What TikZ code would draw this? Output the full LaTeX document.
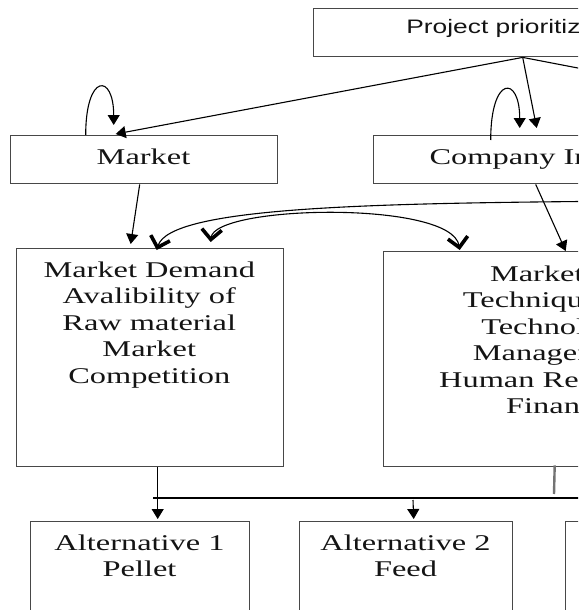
\documentclass[tikz,border=0pt]{standalone}
\usepackage{fontspec}
\setmainfont{Liberation Serif}
\newfontfamily\headsans{Liberation Sans}
\usepackage{graphicx}
\usetikzlibrary{arrows.meta}
% widened, centred multi-line text (first line sits on the node's base)
\newcommand{\widetext}[1]{\scalebox{1.44}[1]{\begin{tabular}[t]{@{}c@{}}#1\end{tabular}}}
\begin{document}
\begin{tikzpicture}[x=1pt,y=-1pt,
  box/.style={draw=black!72, line width=1.4pt, inner sep=0pt, anchor=north west},
  lbl/.style={inner sep=0pt, anchor=base, text=black!92,
              font=\fontsize{22.5}{26.5}\selectfont},
  conn/.style={draw=black, line width=1.1pt},
  tri/.style={-{Triangle[length=10pt,width=12pt]}},
  vtip/.tip={Straight Barb[length=10pt,width=20pt,line width=3.6pt]},
  vee/.style={-vtip},
  veeboth/.style={vtip-vtip},
  stub/.style={draw=black!55, line width=2.4pt}
]
\useasboundingbox (0,0) rectangle (578,610);
\clip (0,0) rectangle (578,610);

% boxes
\node[box, minimum width=418pt, minimum height=48pt]  (top)     at (313,8)   {};
\node[box, minimum width=267pt, minimum height=48pt]  (market)  at (10,135)  {};
\node[box, minimum width=348pt, minimum height=48pt]  (company) at (373,135) {};
\node[box, minimum width=267.5pt, minimum height=218pt] (md)    at (15.5,248) {};
\node[box, minimum width=349pt, minimum height=215pt] (rb)      at (383,251) {};
\node[box, minimum width=219pt, minimum height=130pt] (alt1)    at (30,521)  {};
\node[box, minimum width=213pt, minimum height=130pt] (alt2)    at (299,521) {};
\node[box, minimum width=230pt, minimum height=130pt] (alt3)    at (565,521) {};

% texts
\node[lbl, font=\headsans\fontsize{19.5}{23}\selectfont] (ttop) at (522,33.5)
  {\scalebox{1.35}[1]{Project prioritization}};
\node[lbl] (tmarket)  at (143.5,164) {\widetext{Market}};
\node[lbl] (tcompany) at (547,164)   {\widetext{Company Internal}};
\node[lbl] (tmd) at (149.25,277)
  {\widetext{Market Demand\\Avalibility of\\Raw material\\Market\\Competition}};
\node[lbl] (trb) at (557.5,281)
  {\widetext{Marketing\\Technique and\\Technology\\Management\\Human Resources\\Finance}};
\node[lbl] (talt1) at (139.5,550) {\widetext{Alternative 1\\Pellet}};
\node[lbl] (talt2) at (405.5,550) {\widetext{Alternative 2\\Feed}};

% free ends of connectors
\coordinate (farR)  at (760,103);
\coordinate (curveR) at (640,201);
\coordinate (busL)  at (153,498);
\coordinate (busR)  at (760,498);
\coordinate (drop2) at (413,500);
\coordinate (stubE) at (554,494);

% from the top box
\draw[conn, tri] (top.south) -- ([xshift=-28.5pt,yshift=1pt]market.north);
\draw[conn, tri] (top.south) -- ([xshift=-11pt,yshift=7pt]company.north);
\draw[conn] (top.south) -- (farR);

% self loops
\draw[conn, tri] ([xshift=-58.5pt]market.north)
  .. controls +(0,-62) and +(0,-52) .. ([xshift=-30.5pt,yshift=10pt]market.north);
\draw[conn, tri] ([xshift=-57pt,yshift=-5pt]company.north)
  .. controls +(0,-65) and +(0,-53) .. ([xshift=-28pt,yshift=7pt]company.north);

% down to the factor boxes
\draw[conn, tri] ([xshift=-4.5pt]market.south) -- ([xshift=-19.25pt,yshift=4pt]md.north);
\draw[conn, tri] ([xshift=-12pt]company.south) -- ([xshift=7.5pt]rb.north);

% curved links between the factor boxes
\draw[conn, vee] (curveR) .. controls (380,203) and (170,206)
  .. ([xshift=6.75pt,yshift=-2pt]md.north);
\draw[conn, veeboth] ([xshift=60.75pt,yshift=6pt]md.north)
  .. controls (214,205) and (452,200) .. ([xshift=-98.5pt,yshift=1pt]rb.north);

% to the alternatives
\draw[conn, tri] ([xshift=7.75pt]md.south) -- ([xshift=17.5pt,yshift=2pt]alt1.north);
\draw[conn] (busL) -- (busR);
\draw[conn, tri] (drop2) -- ([xshift=7.5pt,yshift=2pt]alt2.north);
\draw[stub] ([xshift=-3.5pt,yshift=2pt]rb.south) -- (stubE);
\end{tikzpicture}
\end{document}
